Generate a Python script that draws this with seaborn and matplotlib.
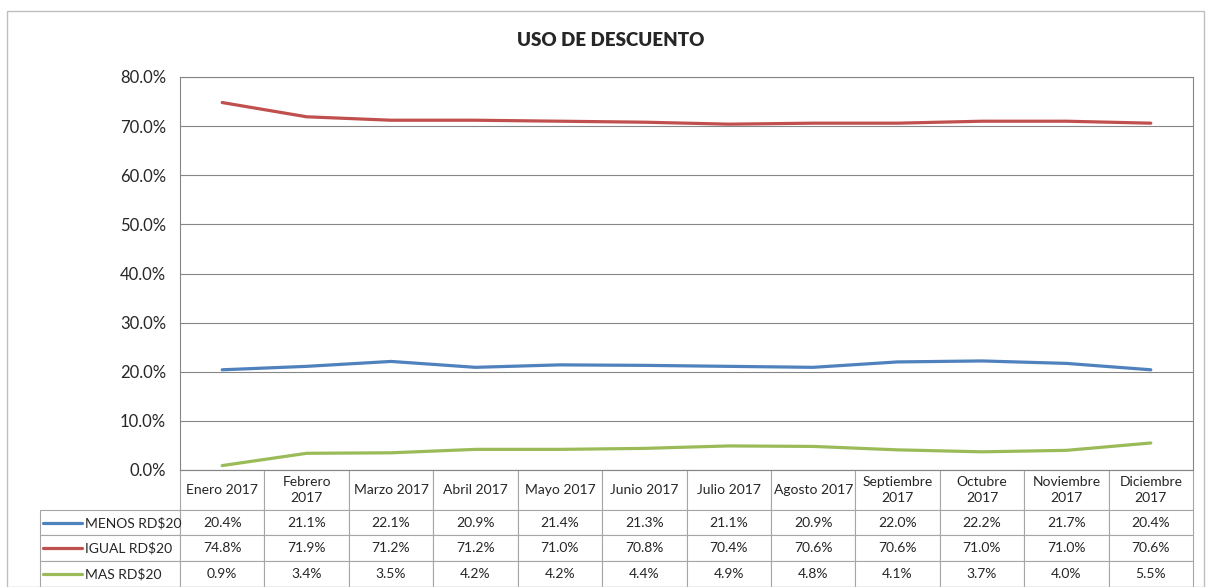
import numpy as np
import pandas as pd
import matplotlib
matplotlib.use("Agg")
import matplotlib.pyplot as plt
import seaborn as sns
from matplotlib.patches import Rectangle

# Datos
MESES = ["Enero 2017", "Febrero\n2017", "Marzo 2017", "Abril 2017", "Mayo 2017",
         "Junio 2017", "Julio 2017", "Agosto 2017", "Septiembre\n2017",
         "Octubre\n2017", "Noviembre\n2017", "Diciembre\n2017"]
SERIES = ["MENOS RD$20", "IGUAL RD$20", "MAS RD$20"]
MENOS = [20.4, 21.1, 22.1, 20.9, 21.4, 21.3, 21.1, 20.9, 22.0, 22.2, 21.7, 20.4]
IGUAL = [74.8, 71.9, 71.2, 71.2, 71.0, 70.8, 70.4, 70.6, 70.6, 71.0, 71.0, 70.6]
MAS = [0.9, 3.4, 3.5, 4.2, 4.2, 4.4, 4.9, 4.8, 4.1, 3.7, 4.0, 5.5]
COLORES = ["#4F81BD", "#C0504D", "#9BBB59"]

sns.set_style("white")
plt.rcParams["font.family"] = ["Lato", "DejaVu Sans"]

df = pd.DataFrame({
    "mes": list(range(len(MESES))) * 3,
    "valor": MENOS + IGUAL + MAS,
    "serie": [s for s in SERIES for _ in MESES],
})

fig = plt.figure(figsize=(12.07, 5.87), dpi=100)
ax = fig.add_axes([180 / 1207, 1 - 470 / 587, 1013 / 1207, 393 / 587])

# Marco exterior del gráfico
fig.patches.append(Rectangle((7 / 1207, 0), 1197 / 1207, 1 - 11 / 587,
                             transform=fig.transFigure, fill=False,
                             edgecolor="#BFBFBF", linewidth=1))

sns.lineplot(data=df, x="mes", y="valor", hue="serie", hue_order=SERIES,
             palette=COLORES, linewidth=2.3, legend=False, ax=ax)

ax.set_xlim(-0.5, len(MESES) - 0.5)
ax.set_ylim(0, 80)
ax.set_yticks(np.arange(0, 81, 10))
ax.set_yticklabels([f"{v:.1f}%" for v in np.arange(0, 81, 10)], fontsize=12)
ax.set_xticks([])
ax.set_xlabel("")
ax.set_ylabel("")
ax.tick_params(axis="y", length=0, pad=10)
ax.yaxis.grid(True, color="#868686", linewidth=0.8)
ax.set_axisbelow(True)
for lado in ["left", "top", "right", "bottom"]:
    ax.spines[lado].set_color("#868686")
    ax.spines[lado].set_linewidth(0.8)

fig.text(611 / 1207, 1 - 40 / 587, "USO DE DESCUENTO", ha="center", va="center",
         fontsize=13.5, fontweight="heavy")

# Tabla de datos (primera columna vacía para la leyenda)
filas = [[""] + [f"{v:.1f}%" for v in s] for s in (MENOS, IGUAL, MAS)]
col_w = 1 / len(MESES)
etiqueta_w = col_w * 140 / (1013 / 12)
tabla = ax.table(cellText=filas, colLabels=[""] + MESES, cellLoc="center",
                 colWidths=[etiqueta_w] + [col_w] * len(MESES),
                 bbox=[-140 / 1013, -117 / 393, 1 + 140 / 1013, 117 / 393])
tabla.auto_set_font_size(False)
for (r, c), celda in tabla.get_celld().items():
    celda.set_edgecolor("#A6A6A6")
    celda.set_linewidth(0.8)
    celda.get_text().set_fontsize(10)
    celda.get_text().set_linespacing(1.35)
    celda.set_height(40 if r == 0 else 26)
tabla[(0, 0)].visible_edges = ""

# Leyenda dentro de la tabla
y_filas = [523, 548, 574]
for i, serie in enumerate(SERIES):
    y = (470 - y_filas[i]) / 393
    ax.plot([-137 / 1013, -98 / 1013], [y, y], color=COLORES[i], linewidth=2.3,
            transform=ax.transAxes, clip_on=False)
    ax.text(-95 / 1013, y, serie, transform=ax.transAxes, ha="left", va="center",
            fontsize=10)

fig.savefig("out.png", dpi=100)
